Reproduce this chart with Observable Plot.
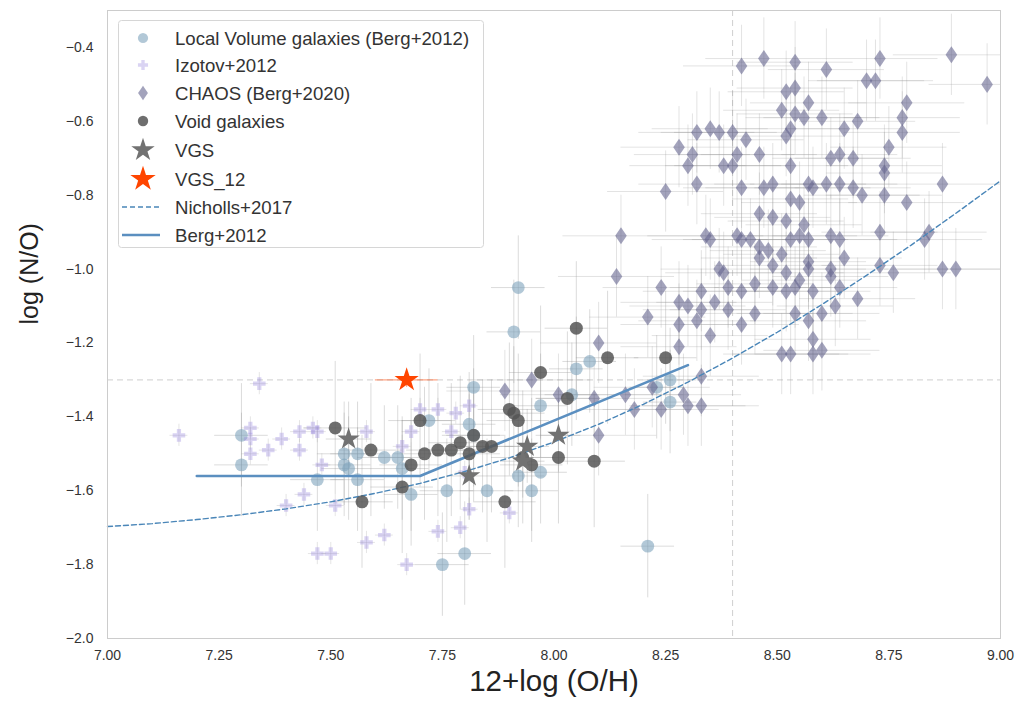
<!DOCTYPE html>
<html><head><meta charset="utf-8">
<script src="https://cdn.jsdelivr.net/npm/d3@7"></script>
<script src="https://cdn.jsdelivr.net/npm/@observablehq/plot@0.6"></script>
<style>
body{margin:0;background:#fff;}
#wrap{position:relative;width:1020px;height:707px;font-family:"Liberation Sans",Arial,sans-serif;}
#legend{position:absolute;left:118px;top:20px;}
</style></head><body><div id="wrap"></div>
<script>
// ---- data ----
const chaosX = [8.42,8.47,8.54,8.61,8.70,8.72,8.73,8.89,8.97,8.52,8.54,8.51,8.54,8.57,8.56,8.60,8.53,8.52,8.32,8.35,
8.37,8.40,8.43,8.28,8.31,8.30,8.38,8.40,8.41,8.46,8.53,8.62,8.64,8.67,8.65,8.68,8.79,8.78,8.78,8.75,
8.74,8.74,8.87,8.79,8.32,8.25,8.42,8.47,8.49,8.53,8.55,8.57,8.58,8.61,8.64,8.67,8.69,8.74,8.46,8.52,
8.56,8.15,8.34,8.35,8.41,8.44,8.46,8.55,8.57,8.62,8.64,8.73,8.84,8.83,8.14,8.24,8.21,8.28,8.30,8.33,
8.33,8.36,8.39,8.42,8.45,8.35,8.28,8.28,8.42,8.37,8.45,8.48,8.49,8.52,8.55,8.57,8.58,8.62,8.64,8.65,
8.62,8.63,8.68,8.73,8.76,8.87,8.90,8.54,8.57,8.60,8.58,8.51,8.53,8.58,8.60,8.53,8.57,8.51,8.49,8.42,
8.46,8.54,8.52,8.38,8.39,8.49,8.32,8.33,8.29,8.30,8.33,8.24,8.10,7.95,8.01,8.09,8.16,8.18,8.10,8.22,7.89];
const chaosY = [-0.45,-0.43,-0.44,-0.46,-0.49,-0.49,-0.43,-0.42,-0.50,-0.52,-0.51,-0.57,-0.58,-0.55,-0.59,-0.59,-0.62,-0.64,-0.63,-0.62,
-0.63,-0.63,-0.65,-0.67,-0.69,-0.72,-0.72,-0.72,-0.69,-0.69,-0.72,-0.70,-0.69,-0.70,-0.62,-0.60,-0.55,-0.59,-0.63,-0.67,
-0.72,-0.74,-0.77,-0.82,-0.77,-0.79,-0.78,-0.78,-0.77,-0.81,-0.82,-0.77,-0.78,-0.77,-0.77,-0.78,-0.80,-0.80,-0.85,-0.87,
-0.88,-0.91,-0.91,-0.92,-0.91,-0.92,-0.94,-0.91,-0.92,-0.91,-0.92,-0.90,-0.90,-0.92,-1.02,-1.05,-1.13,-1.09,-1.10,-1.11,
-1.06,-1.09,-1.11,-1.06,-1.12,-1.18,-1.15,-1.21,-1.15,-1.00,-1.04,-0.95,-0.99,-1.01,-1.03,-1.00,-1.06,-1.02,-1.05,-0.97,
-1.00,-1.10,-1.08,-0.99,-1.01,-1.00,-1.00,-1.12,-1.14,-1.12,-1.19,-1.23,-1.23,-1.23,-1.22,-0.92,-0.98,-0.96,-0.86,-0.92,
-0.97,-1.05,-1.06,-1.01,-1.05,-1.05,-1.14,-1.29,-1.34,-1.37,-1.37,-1.38,-1.20,-1.30,-1.34,-1.35,-1.34,-1.38,-1.45,-1.32,-1.33];

const lvX = [7.30,7.30,7.47,7.53,7.53,7.54,7.56,7.56,7.62,7.65,7.66,7.68,7.72,7.76,7.85,7.80,7.75,7.82,7.81,7.82,
7.92,7.91,7.97,7.92,7.95,7.97,8.05,8.08,8.21,8.26,8.26,8.23,8.04];
const lvY = [-1.45,-1.53,-1.57,-1.50,-1.53,-1.54,-1.57,-1.50,-1.51,-1.51,-1.54,-1.61,-1.41,-1.60,-1.60,-1.77,-1.80,-1.32,-1.42,-1.45,
-1.05,-1.17,-1.37,-1.56,-1.60,-1.55,-1.27,-1.25,-1.75,-1.30,-1.36,-1.32,-1.34];

const izX = [7.16,7.34,7.32,7.32,7.32,7.36,7.39,7.43,7.43,7.46,7.47,7.48,7.44,7.40,7.51,7.47,7.50,7.58,7.58,7.62,
7.67,7.70,7.74,7.78,7.81,7.74,7.79,7.81,7.66,7.68,7.77,7.90,7.80];
const izY = [-1.45,-1.31,-1.43,-1.46,-1.50,-1.49,-1.46,-1.44,-1.49,-1.43,-1.44,-1.53,-1.61,-1.64,-1.64,-1.77,-1.77,-1.44,-1.74,-1.72,
-1.80,-1.38,-1.38,-1.39,-1.37,-1.71,-1.70,-1.65,-1.48,-1.44,-1.44,-1.66,-1.55];

const voidX = [7.51,7.59,7.57,7.66,7.68,7.70,7.71,7.74,7.77,7.79,7.82,7.81,7.84,7.86,7.89,7.90,7.91,7.92,7.97,8.05,
8.12,8.25,8.03,7.93,7.95,8.01,8.09];
const voidY = [-1.43,-1.49,-1.63,-1.59,-1.53,-1.41,-1.50,-1.49,-1.49,-1.47,-1.45,-1.50,-1.48,-1.48,-1.63,-1.38,-1.39,-1.41,-1.28,-1.16,
-1.24,-1.24,-1.35,-1.51,-1.53,-1.51,-1.52];

const vgsX = [7.54,7.81,7.94,8.01,7.93];
const vgsY = [-1.46,-1.56,-1.48,-1.45,-1.52];
const vgs12X = [7.67];
const vgs12Y = [-1.30];

// typical error bars per series [xerr, yerr]
const chaosErr = [0.13, 0.11];
const lvErr = [0.06, 0.14];
const izErr = [0.02, 0.03];
const voidErr = [0.07, 0.18];
const vgsErr = [0.05, 0.10];
const vgs12Err = [0.07, 0.02];

// Nicholls+2017 curve read along x
const nichX = [7.0,7.1,7.2,7.3,7.4,7.5,7.6,7.7,7.8,7.9,8.0,8.1,8.2,8.3,8.4,8.5,8.6,8.7,8.8,8.9,9.0];
const nichY = [-1.697,-1.689,-1.678,-1.665,-1.649,-1.630,-1.607,-1.580,-1.548,-1.511,-1.468,-1.420,-1.366,-1.306,-1.241,-1.171,-1.096,-1.017,-0.935,-0.849,-0.761];
// Berg+2012 relation
const bergX = [7.2,7.7,8.3];
const bergY = [-1.56,-1.56,-1.26];

const xTicks = [7.00,7.25,7.50,7.75,8.00,8.25,8.50,8.75,9.00];
const yTicks = [-2.0,-1.8,-1.6,-1.4,-1.2,-1.0,-0.8,-0.6,-0.4];
const refX = [8.4], refY = [-1.3];
const legendLabels = ["Local Volume galaxies (Berg+2012)","Izotov+2012","CHAOS (Berg+2020)","Void galaxies","VGS","VGS_12","Nicholls+2017","Berg+2012"];
const xLabel = "12+log (O/H)", yLabel = "log (N/O)";

// ---- build ----
const mk = (xs, ys) => xs.map((x, i) => ({x, y: ys[i]}));
const chaos = mk(chaosX, chaosY), lv = mk(lvX, lvY), iz = mk(izX, izY),
      voids = mk(voidX, voidY), vgs = mk(vgsX, vgsY), vgs12 = mk(vgs12X, vgs12Y),
      nich = mk(nichX, nichY), berg = mk(bergX, bergY);

// matplotlib-like "thin diamond" (width ≈ 0.68 × height)
const thinDiamond = {
  draw(ctx, size) {
    const h = Math.sqrt(size / 1.36), w = 0.68 * h;
    ctx.moveTo(0, -h); ctx.lineTo(w, 0); ctx.lineTo(0, h); ctx.lineTo(-w, 0); ctx.closePath();
  }
};

const errMarks = (data, [ex, ey], color, op) => [
  Plot.ruleY(data, {y: "y", x1: d => d.x - ex, x2: d => d.x + ex, stroke: color, strokeOpacity: op, strokeWidth: 1, clip: true}),
  Plot.ruleX(data, {x: "x", y1: d => d.y - ey, y2: d => d.y + ey, stroke: color, strokeOpacity: op, strokeWidth: 1, clip: true})
];

const S = {
  lv: {symbol: d3.symbolCircle, r: 6.4, fill: "#7fa3bd", fillOpacity: 0.6},
  iz: {symbol: d3.symbolCross, r: 5.3, fill: "#9d8fe0", fillOpacity: 0.38},
  chaos: {symbol: thinDiamond, r: 5.6, fill: "#66668f", fillOpacity: 0.6},
  void: {symbol: d3.symbolCircle, r: 6.5, fill: "#555555", fillOpacity: 0.85},
  vgs: {symbol: d3.symbolStar, r: 7, fill: "#727272"},
  vgs12: {symbol: d3.symbolStar, r: 7.6, fill: "#ff4500"}
};
const nichStyle = {stroke: "#4a86b8", strokeWidth: 1.4, strokeDasharray: "5,3"};
const bergStyle = {stroke: "#5b8fc0", strokeWidth: 2.6};

const chart = Plot.plot({
  width: 1020, height: 707,
  marginLeft: 107, marginRight: 20, marginTop: 10, marginBottom: 69,
  x: {domain: [7, 9]},
  y: {domain: [-2, -0.3]},
  style: {fontFamily: '"Liberation Sans", Arial, sans-serif', fontSize: "14px", color: "#333", background: "#fff"},
  marks: [
    Plot.ruleX(refX, {stroke: "#cfcfcf", strokeDasharray: "6,4", strokeWidth: 1}),
    Plot.ruleY(refY, {stroke: "#cfcfcf", strokeDasharray: "6,4", strokeWidth: 1}),
    ...errMarks(lv, lvErr, "#999", 0.35),
    ...errMarks(iz, izErr, "#aaa", 0.3),
    ...errMarks(chaos, chaosErr, "#999", 0.28),
    ...errMarks(voids, voidErr, "#999", 0.35),
    ...errMarks(vgs, vgsErr, "#999", 0.35),
    ...errMarks(vgs12, vgs12Err, "#ff4500", 0.6),
    Plot.dot(lv, {x: "x", y: "y", ...S.lv}),
    Plot.dot(iz, {x: "x", y: "y", ...S.iz}),
    Plot.dot(chaos, {x: "x", y: "y", ...S.chaos}),
    Plot.line(nich, {x: "x", y: "y", ...nichStyle}),
    Plot.line(berg, {x: "x", y: "y", ...bergStyle}),
    Plot.dot(voids, {x: "x", y: "y", ...S.void}),
    Plot.dot(vgs, {x: "x", y: "y", ...S.vgs}),
    Plot.dot(vgs12, {x: "x", y: "y", ...S.vgs12}),
    Plot.frame({stroke: "#cccccc"}),
    Plot.axisX({ticks: xTicks, tickFormat: d => d.toFixed(2), tickSize: 0, tickPadding: 12, label: null, fontSize: 14}),
    Plot.axisY({ticks: yTicks, tickFormat: d => d.toFixed(1).replace("-", "\u2212"), tickSize: 0, tickPadding: 14, label: null, fontSize: 14}),
    Plot.text([xLabel], {text: d => d, frameAnchor: "bottom", dy: 52, fontSize: 29.5, fill: "#222"}),
    Plot.text([yLabel], {text: d => d, frameAnchor: "left", dx: -78, rotate: -90, fontSize: 25, fill: "#222"})
  ]
});
const wrap = document.getElementById("wrap");
wrap.appendChild(chart);

// ---- legend (inside the axes, top-left) ----
const lw = 366, lh = 228;
const rowsY = [18, 45, 73, 101, 130, 159, 187, 215];
const lg = d3.create("svg").attr("id", "legend").attr("width", lw).attr("height", lh)
  .style("font-family", '"Liberation Sans", Arial, sans-serif');
lg.append("rect").attr("x", 0.5).attr("y", 0.5).attr("width", lw - 1).attr("height", lh - 1)
  .attr("rx", 3).attr("fill", "#fff").attr("fill-opacity", 0.85).attr("stroke", "#d6d6d6");
const symKeys = ["lv", "iz", "chaos", "void", "vgs", "vgs12"];
const legScale = [0.8, 0.8, 0.85, 0.8, 1.05, 1.05];
symKeys.forEach((k, i) => {
  const s = S[k], rr = s.r * legScale[i];
  lg.append("path").attr("transform", `translate(25,${rowsY[i]})`)
    .attr("d", d3.symbol(s.symbol, Math.PI * rr * rr)())
    .attr("fill", s.fill).attr("fill-opacity", s.fillOpacity ?? 1);
});
lg.append("line").attr("x1", 4).attr("x2", 42).attr("y1", rowsY[6]).attr("y2", rowsY[6])
  .attr("stroke", nichStyle.stroke).attr("stroke-width", nichStyle.strokeWidth).attr("stroke-dasharray", nichStyle.strokeDasharray);
lg.append("line").attr("x1", 4).attr("x2", 42).attr("y1", rowsY[7]).attr("y2", rowsY[7])
  .attr("stroke", bergStyle.stroke).attr("stroke-width", bergStyle.strokeWidth);
legendLabels.forEach((t, i) => {
  lg.append("text").attr("x", 57).attr("y", rowsY[i]).attr("dy", "0.35em")
    .attr("font-size", 18.6).attr("fill", "#333").text(t);
});
wrap.appendChild(lg.node());
</script></body></html>
